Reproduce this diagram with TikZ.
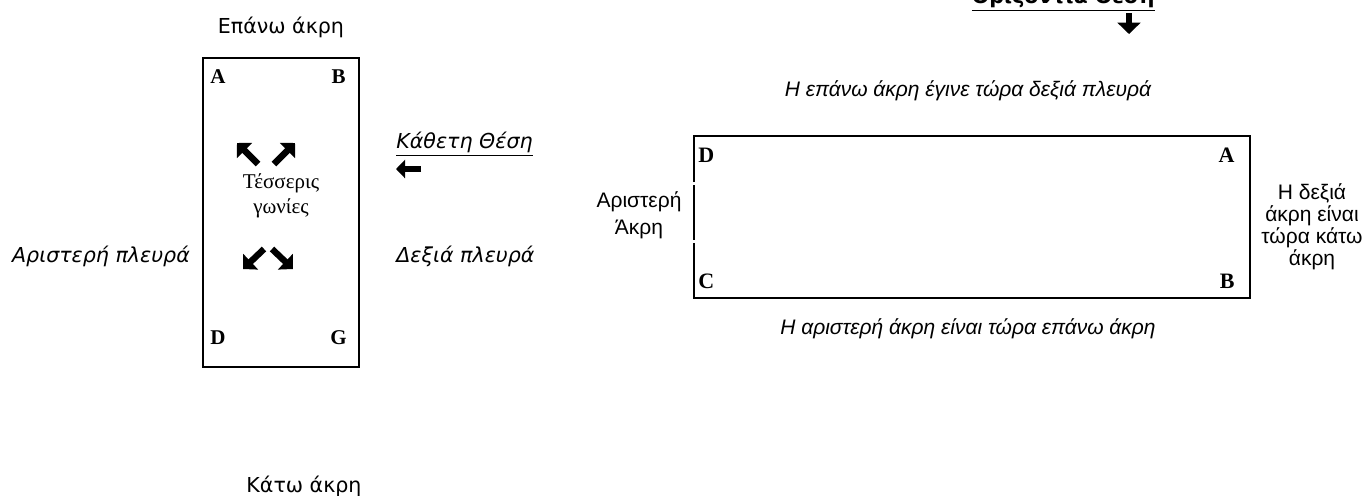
\documentclass[tikz,border=0pt]{standalone}
\usepackage{fontspec}
\setmainfont{Liberation Serif}
\newfontfamily\dejavu{DejaVu Sans}
\newfontfamily\arial{Liberation Sans}
\usetikzlibrary{arrows.meta}

\begin{document}
\begin{tikzpicture}[x=0.5pt, y=-0.5pt, line width=1.4pt]
\tikzset{
  sidetext/.style={inner sep=0pt, font=\dejavu\fontsize{10.3}{12}\selectfont},
  notetext/.style={inner sep=0pt, align=center, font=\arial\fontsize{10.5}{11}\selectfont},
  corner/.style={inner sep=0pt, font=\bfseries\fontsize{10.5}{12}\selectfont},
  fatarrow/.style={line width=3.2pt, -{Triangle[angle=90:7.5pt]}}
}
\useasboundingbox (0,0) rectangle (1365,495);

% portrait sheet
\draw (203,58) rectangle (359,367);
\node[corner, anchor=base west] (pA) at (209,83)  {A};
\node[corner, anchor=base east] (pB) at (347,83)  {B};
\node[corner, anchor=base west] (pD) at (209,344) {D};
\node[corner, anchor=base east] (pG) at (348,344) {G};
\node[align=center, inner sep=0pt, font=\fontsize{10.5}{12.5}\selectfont] (corners) at (281,196) {Τέσσερις\\γωνίες};
\draw[fatarrow] (258,164) -- (237,143);
\draw[fatarrow] (274,164) -- (295,143);
\draw[fatarrow] (264,249) -- (243,269);
\draw[fatarrow] (272,249) -- (293,269);

\node[sidetext, anchor=base] (top) at (281,33) {Επάνω άκρη};
\node[sidetext, anchor=base] (bottom) at (304,492) {Κάτω άκρη};
\node[sidetext, anchor=base] (left) at (101,262) {\itshape Αριστερή πλευρά};
\node[sidetext, anchor=base west] (right) at (395,262) {\itshape Δεξιά πλευρά};
\node[sidetext, anchor=base west] (upright) at (395,148) {\itshape\underline{Κάθετη Θέση}};
\draw[fatarrow, line width=3pt, -{Triangle[angle=90:6.5pt]}] (421,169) -- (396,169);

% landscape sheet
\draw (694,182) -- (694,136) -- (1250,136) -- (1250,298) -- (694,298) -- (694,243);
\draw (694,185) -- (694,240);
\node[corner, font=\bfseries\fontsize{11}{12}\selectfont, anchor=base west] (lD) at (697,162)  {D};
\node[corner, font=\bfseries\fontsize{11}{12}\selectfont, anchor=base east] (lA) at (1236,162) {A};
\node[corner, font=\bfseries\fontsize{11}{12}\selectfont, anchor=base west] (lC) at (697,288)  {C};
\node[corner, font=\bfseries\fontsize{11}{12}\selectfont, anchor=base east] (lB) at (1236,288) {B};

\node[notetext, anchor=base] (newright) at (968,96)  {\itshape Η επάνω άκρη έγινε τώρα δεξιά πλευρά};
\node[notetext, anchor=base] (newtop)   at (968,334) {\itshape Η αριστερή άκρη είναι τώρα επάνω άκρη};
\node[notetext] (leftedge)  at (639,215) {Αριστερή\\[2.5pt]Άκρη};
\node[notetext] (rightedge) at (1312,227) {Η δεξιά\\άκρη είναι\\τώρα κάτω\\άκρη};

\node[sidetext, anchor=base east, font=\dejavu\bfseries\fontsize{10.3}{12}\selectfont] (flat) at (1156,3) {\underline{Οριζόντια Θέση}};
\draw[fatarrow, line width=3.4pt, -{Triangle[angle=90:8pt]}] (1129,13) -- (1129,34);
\end{tikzpicture}
\end{document}
